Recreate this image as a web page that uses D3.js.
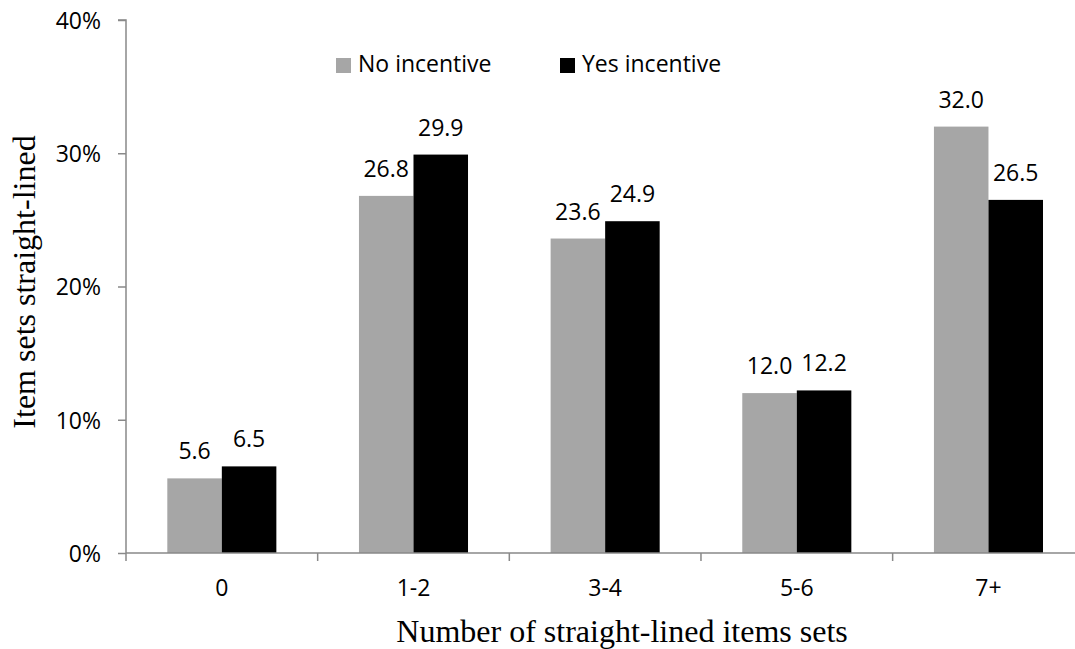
<!DOCTYPE html>
<html>
<head>
<meta charset="utf-8">
<script src="https://cdn.jsdelivr.net/npm/d3@7"></script>
<style>
  html, body { margin: 0; padding: 0; background: #fff; }
  svg { display: block; }
  .sans { font-family: "Open Sans", sans-serif; fill: #000; }
  .serif { font-family: "Liberation Serif", "Times New Roman", serif; fill: #000; }
</style>
</head>
<body>
<svg id="chart" width="1075" height="649"></svg>
<script>
const categories = ["0", "1-2", "3-4", "5-6", "7+"];
const seriesNames = ["No incentive", "Yes incentive"];
const noIncentive = [5.6, 26.8, 23.6, 12.0, 32.0];
const yesIncentive = [6.5, 29.9, 24.9, 12.2, 26.5];
const yTicks = [0, 10, 20, 30, 40];
const colors = ["#A6A6A6", "#000000"];

(function () {
const svg = d3.select("#chart");
const pLeft = 126, pRight = 1084.3, pTop = 20, pBottom = 553;
const axisColor = "#898989";
const fontSize = 23;
const titleSize = 32;

const x = d3.scaleBand().domain(categories).range([pLeft, pRight])
  .paddingInner(0.431).paddingOuter(0.2155);
const xs = d3.scaleBand().domain(seriesNames).range([0, x.bandwidth()]);
const y = d3.scaleLinear().domain([0, 40]).range([pBottom, pTop]);

const data = categories.map((c, i) => ({
  cat: c,
  values: [
    { name: seriesNames[0], v: noIncentive[i], color: colors[0] },
    { name: seriesNames[1], v: yesIncentive[i], color: colors[1] }
  ]
}));

// bars
const groups = svg.append("g").selectAll("g").data(data).join("g")
  .attr("transform", d => `translate(${x(d.cat)},0)`);
groups.selectAll("rect").data(d => d.values).join("rect")
  .attr("x", d => xs(d.name))
  .attr("width", xs.bandwidth())
  .attr("y", d => y(d.v))
  .attr("height", d => y(0) - y(d.v))
  .attr("fill", d => d.color);
groups.selectAll("text").data(d => d.values).join("text")
  .attr("class", "sans")
  .attr("font-size", fontSize)
  .attr("text-anchor", "middle")
  .attr("x", d => xs(d.name) + xs.bandwidth() / 2)
  .attr("y", d => y(d.v) - 19)
  .text(d => d.v.toFixed(1));

// y axis
const yAxis = svg.append("g").attr("transform", `translate(${pLeft},0)`)
  .call(d3.axisLeft(y).tickValues(yTicks).tickSize(8).tickPadding(17)
    .tickFormat(d => d + "%"));
yAxis.select(".domain").attr("stroke", axisColor).attr("stroke-width", 1.5)
  .attr("d", `M-8,${pTop}H0V${pBottom}`);
yAxis.selectAll(".tick line").attr("stroke", axisColor).attr("stroke-width", 1.5);
yAxis.selectAll(".tick text").attr("class", "sans").attr("font-size", fontSize)
  .attr("fill", "#000").attr("dy", "0.36em");

// x axis
const step = x.step();
const boundaries = d3.range(categories.length + 1).map(i => pLeft + i * step);
const xAxis = svg.append("g");
xAxis.append("line").attr("x1", pLeft).attr("x2", pRight).attr("y1", pBottom).attr("y2", pBottom)
  .attr("stroke", axisColor).attr("stroke-width", 1.5);
xAxis.selectAll("line.tk").data(boundaries).join("line").attr("class", "tk")
  .attr("x1", d => d).attr("x2", d => d).attr("y1", pBottom).attr("y2", pBottom + 8)
  .attr("stroke", axisColor).attr("stroke-width", 1.5);
xAxis.selectAll("text").data(categories).join("text")
  .attr("class", "sans").attr("font-size", fontSize).attr("text-anchor", "middle")
  .attr("x", d => x(d) + x.bandwidth() / 2).attr("y", 596)
  .text(d => d);

// axis titles
svg.append("text").attr("class", "serif").attr("font-size", titleSize)
  .attr("text-anchor", "middle").attr("x", 622).attr("y", 642)
  .text("Number of straight-lined items sets");
svg.append("text").attr("class", "serif").attr("font-size", titleSize)
  .attr("text-anchor", "middle")
  .attr("transform", "translate(35,282) rotate(-90)")
  .text("Item sets straight-lined");

// legend
const legendX = [336, 560];
const legend = svg.append("g").selectAll("g").data(seriesNames).join("g")
  .attr("transform", (d, i) => `translate(${legendX[i]},58)`);
legend.append("rect").attr("width", 15).attr("height", 15)
  .attr("fill", (d, i) => colors[i]);
legend.append("text").attr("class", "sans").attr("font-size", fontSize)
  .attr("x", 22).attr("y", 14).text(d => d);
})();
</script>
</body>
</html>
